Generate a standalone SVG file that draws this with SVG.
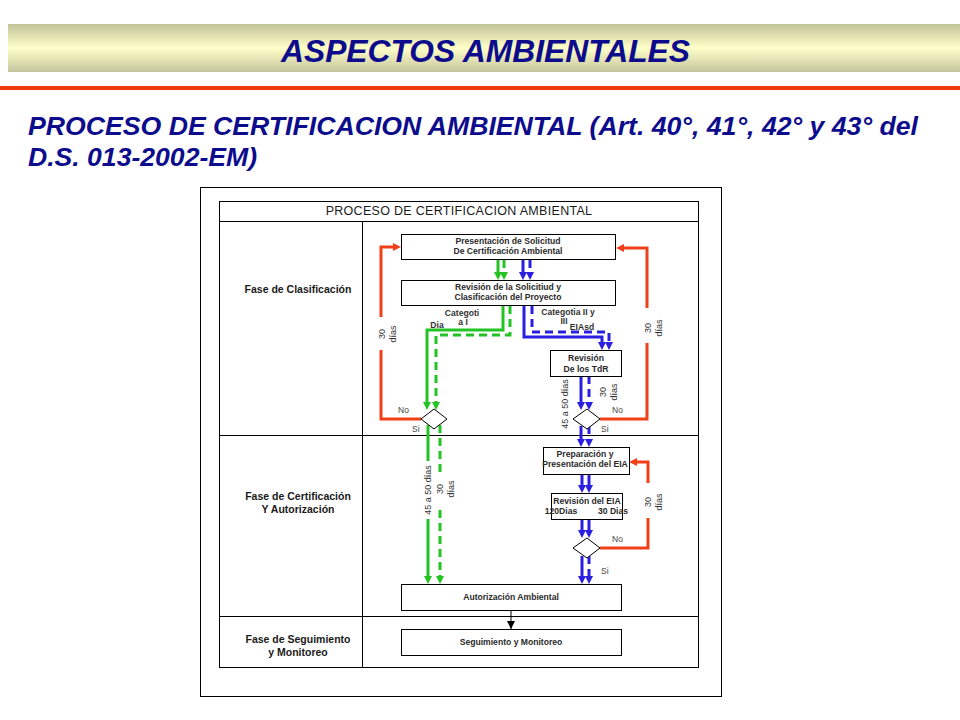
<svg xmlns="http://www.w3.org/2000/svg" width="960" height="720" viewBox="0 0 960 720">
<defs>
<linearGradient id="band" x1="0" y1="0" x2="0" y2="1">
<stop offset="0" stop-color="#c2c29a"/>
<stop offset="0.5" stop-color="#ffffc8"/>
<stop offset="1" stop-color="#c4c49e"/>
</linearGradient>
<marker id="ag" markerUnits="userSpaceOnUse" markerWidth="8" markerHeight="8" viewBox="0 0 8 8" refX="4" refY="4" orient="auto"><path d="M0,0 L8,4 L0,8 z" fill="#22c322"/></marker>
<marker id="ab" markerUnits="userSpaceOnUse" markerWidth="8" markerHeight="8" viewBox="0 0 8 8" refX="4" refY="4" orient="auto"><path d="M0,0 L8,4 L0,8 z" fill="#2a1ee0"/></marker>
<marker id="ar" markerUnits="userSpaceOnUse" markerWidth="8" markerHeight="8" viewBox="0 0 8 8" refX="4" refY="4" orient="auto"><path d="M0,0 L8,4 L0,8 z" fill="#f04018"/></marker>
<marker id="ak" markerUnits="userSpaceOnUse" markerWidth="8" markerHeight="8" viewBox="0 0 8 8" refX="8" refY="4" orient="auto"><path d="M0,0 L8,4 L0,8 z" fill="#000"/></marker>
</defs>
<style>
.hdr{font-family:"Liberation Sans",Arial,sans-serif;font-weight:bold;font-style:italic;fill:#0c0c8c}
.box{fill:#fff;stroke:#000;stroke-width:1}
.tbl{fill:none;stroke:#000;stroke-width:1}
.bt{font-family:"Liberation Sans",Arial,sans-serif;font-size:8.6px;font-weight:bold;fill:#2a2a2a;text-anchor:middle}
.ph{font-family:"Liberation Sans",Arial,sans-serif;font-size:10.5px;font-weight:bold;fill:#1a1a1a;text-anchor:middle}
.sm{font-family:"Liberation Sans",Arial,sans-serif;font-size:8.5px;fill:#444}
.rt{font-family:"Liberation Sans",Arial,sans-serif;font-size:9px;fill:#333;text-anchor:middle}
.cl{font-family:"Liberation Sans",Arial,sans-serif;font-size:8.6px;font-weight:bold;fill:#333;text-anchor:middle}
.g{fill:none;stroke:#22c322;stroke-width:3}
.b{fill:none;stroke:#2a1ee0;stroke-width:3}
.r{fill:none;stroke:#f04018;stroke-width:3}
.d{stroke-dasharray:8 5}
.mg{marker-end:url(#ag)}
.mb{marker-end:url(#ab)}
.mr{marker-end:url(#ar)}
</style>
<rect width="960" height="720" fill="#fff"/>
<g id="header">
<rect x="8" y="24" width="952" height="48" fill="url(#band)"/>
<text class="hdr" x="485.5" y="62" font-size="31" text-anchor="middle" textLength="409" lengthAdjust="spacingAndGlyphs">ASPECTOS AMBIENTALES</text>
<rect x="0" y="86" width="960" height="4" fill="#f53a0a"/>
<text class="hdr" x="28" y="135" font-size="26.5" textLength="890" lengthAdjust="spacingAndGlyphs">PROCESO DE CERTIFICACION AMBIENTAL (Art. 40°, 41°, 42° y 43° del</text>
<text class="hdr" x="28" y="166" font-size="26.5" textLength="229" lengthAdjust="spacingAndGlyphs">D.S. 013-2002-EM)</text>
</g>
<g id="frame">
<rect class="tbl" x="200.5" y="187.5" width="521" height="509"/>
<rect class="tbl" x="219.5" y="201.5" width="479" height="466"/>
<line class="tbl" x1="219.5" y1="221.5" x2="698.5" y2="221.5"/>
<line class="tbl" x1="362.5" y1="221.5" x2="362.5" y2="667.5"/>
<line class="tbl" x1="219.5" y1="435.5" x2="698.5" y2="435.5"/>
<line class="tbl" x1="219.5" y1="616.5" x2="698.5" y2="616.5"/>
<text x="459" y="215" font-family="Liberation Sans, Arial, sans-serif" font-size="12.5" fill="#1a1a1a" text-anchor="middle" letter-spacing="0.3">PROCESO DE CERTIFICACION AMBIENTAL</text>
</g>
<g id="phase-clasificacion"><text class="ph" x="298" y="293">Fase de Clasificación</text></g>
<g id="phase-certificacion"><text class="ph" x="298" y="500">Fase de Certificación</text><text class="ph" x="298" y="513">Y Autorización</text></g>
<g id="phase-seguimiento"><text class="ph" x="298" y="643">Fase de Seguimiento</text><text class="ph" x="298" y="656">y Monitoreo</text></g>

<g id="connectors">
<path class="g mg" d="M498,260 V276"/>
<path class="g d mg" d="M504,260 V276"/>
<path class="b mb" d="M523,260 V276"/>
<path class="b d mb" d="M530,260 V276"/>
<path class="g mg" d="M503,306 V330 H427 V406"/>
<path class="g d mg" d="M510,306 V335 H436 V406"/>
<path class="b mb" d="M524,306 V337 H602 V346"/>
<path class="b d mb" d="M532,306 V332 H609 V346"/>
<path class="g" d="M428,425 V461"/>
<path class="g mg" d="M428,519 V580"/>
<path class="g d" d="M440,425 V473"/>
<path class="g d mg" d="M440,510 V580"/>
<path class="b mb" d="M581,376 V406"/>
<path class="b d mb" d="M589,376 V406"/>
<path class="b mb" d="M581,426 V443"/>
<path class="b d mb" d="M589,426 V443"/>
<path class="b mb" d="M582,474 V489"/>
<path class="b mb" d="M589,474 V489"/>
<path class="b mb" d="M582,519 V534"/>
<path class="b mb" d="M589,519 V534"/>
<path class="b mb" d="M582,556 V580"/>
<path class="b d mb" d="M589,556 V580"/>
<path class="r" d="M421,419 H381 V350"/>
<path class="r mr" d="M381,317 V247 H397"/>
<path class="r" d="M600,419 H647 V343"/>
<path class="r mr" d="M647,308 V248 H620"/>
<path class="r" d="M600,548 H648 V518"/>
<path class="r mr" d="M648,483 V462 H633"/>
<line x1="511" y1="610" x2="511" y2="629" stroke="#000" stroke-width="1" marker-end="url(#ak)"/>
</g>

<g id="n-presentacion"><rect class="box" x="401.5" y="234.5" width="214" height="25"/><text class="bt" x="508" y="244">Presentación de Solicitud</text><text class="bt" x="508" y="254">De Certificación Ambiental</text></g>
<g id="n-revision-solicitud"><rect class="box" x="401.5" y="280.5" width="214" height="25"/><text class="bt" x="508" y="290">Revisión de la Solicitiud y</text><text class="bt" x="508" y="300">Clasificación del Proyecto</text></g>
<g id="n-revision-tdr"><rect class="box" x="550.5" y="350.5" width="71" height="26"/><text class="bt" x="586" y="361">Revisión</text><text class="bt" x="586" y="372">De los TdR</text></g>
<g id="n-dec1"><polygon points="421,419 434,409 447,419 434,429" fill="#fff" stroke="#000" stroke-width="1"/></g>
<g id="n-dec2"><polygon points="573,419 587,409 600,419 587,429" fill="#fff" stroke="#000" stroke-width="1"/></g>
<g id="n-preparacion"><rect class="box" x="543.5" y="447.5" width="86" height="27"/><text class="bt" x="585" y="457">Preparación y</text><text class="bt" x="585" y="467">Presentación del EIA</text></g>
<g id="n-revision-eia"><rect class="box" x="551.5" y="493.5" width="71" height="26"/><text class="bt" x="587" y="504">Revisión del EIA</text><text class="bt" x="561" y="514">120Dias</text><text class="bt" x="613" y="514">30 Dias</text></g>
<g id="n-dec3"><polygon points="573,548 587,538 600,548 587,558" fill="#fff" stroke="#000" stroke-width="1"/></g>
<g id="n-autorizacion"><rect class="box" x="401.5" y="584.5" width="220" height="26"/><text class="bt" x="511" y="600">Autorización Ambiental</text></g>
<g id="n-seguimiento"><rect class="box" x="401.5" y="629.5" width="220" height="26"/><text class="bt" x="511" y="645">Seguimiento y Monitoreo</text></g>

<g id="labels">
<text class="cl" x="462" y="316">Categoti</text>
<text class="cl" x="463" y="325">a I</text>
<text class="cl" x="437" y="328">Dia</text>
<text class="cl" x="568" y="315">Categotia II y</text>
<text class="cl" x="564" y="324" font-size="7.5">III</text>
<text class="cl" x="582" y="330">EIAsd</text>
<text class="sm" x="398" y="413">No</text>
<text class="sm" x="412" y="432">Si</text>
<text class="sm" x="612" y="413">No</text>
<text class="sm" x="601" y="432">Si</text>
<text class="sm" x="612" y="542">No</text>
<text class="sm" x="601" y="574">Si</text>
<text class="rt" transform="translate(385,334) rotate(-90)"><tspan x="0" y="0">30</tspan><tspan x="0" y="11">días</tspan></text>
<text class="rt" transform="translate(651,328) rotate(-90)"><tspan x="0" y="0">30</tspan><tspan x="0" y="11">días</tspan></text>
<text class="rt" transform="translate(651,502) rotate(-90)"><tspan x="0" y="0">30</tspan><tspan x="0" y="11">días</tspan></text>
<text class="rt" transform="translate(443,489) rotate(-90)"><tspan x="0" y="0">30</tspan><tspan x="0" y="11">días</tspan></text>
<text class="rt" transform="translate(606,392) rotate(-90)"><tspan x="0" y="0">30</tspan><tspan x="0" y="11">días</tspan></text>
<text class="rt" transform="translate(431,490) rotate(-90)">45 a 50  días</text>
<text class="rt" transform="translate(568,404) rotate(-90)">45 a 50  días</text>
</g>
</svg>
